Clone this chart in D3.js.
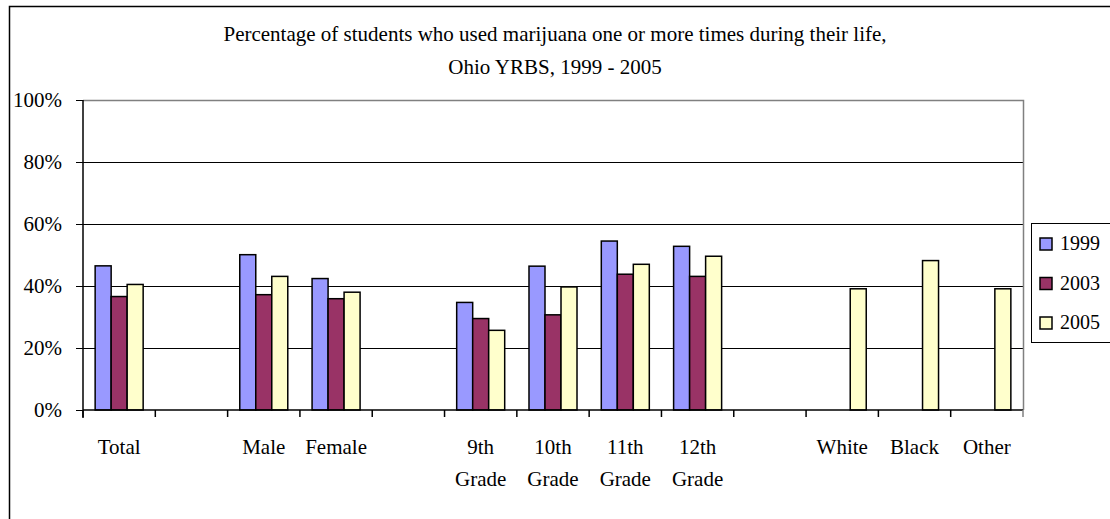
<!DOCTYPE html>
<html>
<head>
<meta charset="utf-8">
<script src="https://cdn.jsdelivr.net/npm/d3@7"></script>
<style>
  body { margin: 0; background: #fff; }
  text { font-family: "Liberation Serif", "Times New Roman", serif; fill: #000; }
</style>
</head>
<body>
<div class="chart"></div>
<script>
// chart data
var categories = ["Total", "", "Male", "Female", "", "9th Grade", "10th Grade", "11th Grade", "12th Grade", "", "White", "Black", "Other"];
var years = ["1999", "2003", "2005"];
var v1999 = [46.5, null, 50.1, 42.4, null, 34.7, 46.4, 54.5, 52.8, null, null, null, null];
var v2003 = [36.6, null, 37.2, 35.9, null, 29.5, 30.7, 43.8, 43.1, null, null, null, null];
var v2005 = [40.5, null, 43.1, 38.0, null, 25.7, 39.7, 47.0, 49.6, null, 39.1, 48.2, 39.1];
var yTicks = [0, 20, 40, 60, 80, 100];
var titleLines = ["Percentage of students who used marijuana one or more times during their life,", "Ohio YRBS, 1999 - 2005"];

var colors = { "1999": "#9999ff", "2003": "#993366", "2005": "#ffffcc" };
var values = { "1999": v1999, "2003": v2003, "2005": v2005 };

var W = 1110, H = 519;
var plot = { left: 83, right: 1023, top: 100, bottom: 410 };

var svg = d3.select(".chart").append("svg")
  .attr("width", W).attr("height", H);

// outer frame
svg.append("rect")
  .attr("x", 9.5).attr("y", 6.5)
  .attr("width", W + 10).attr("height", H + 10)
  .attr("fill", "#fff").attr("stroke", "#000").attr("stroke-width", 1.5);

var x = d3.scaleBand().domain(d3.range(categories.length)).range([plot.left, plot.right]);
var groupW = x.bandwidth() * 0.664;
var xs = d3.scaleBand().domain(years).range([0, groupW]);
var y = d3.scaleLinear().domain([0, 100]).range([plot.bottom, plot.top]);

// title
svg.append("g").selectAll("text")
  .data(titleLines).enter().append("text")
  .attr("x", 555)
  .attr("y", (d, i) => 41 + i * 33)
  .attr("text-anchor", "middle")
  .attr("font-size", 21)
  .text(d => d);

// gridlines
svg.append("g")
  .attr("transform", `translate(${plot.left},0)`)
  .call(d3.axisLeft(y).tickValues(yTicks.slice(1, -1)).tickSize(-(plot.right - plot.left)).tickFormat(""))
  .call(g => g.select(".domain").remove())
  .selectAll("line").attr("stroke", "#000");

// plot area border (right + top)
svg.append("path")
  .attr("d", `M${plot.left},${plot.top + 0.5}H${plot.right + 0.5}V${plot.bottom}`)
  .attr("fill", "none").attr("stroke", "#808080").attr("stroke-width", 1.5);

// bars
years.forEach(yr => {
  var arr = values[yr].map((v, i) => ({ i: i, v: v })).filter(d => d.v != null);
  svg.append("g").selectAll("rect")
    .data(arr).enter().append("rect")
    .attr("x", d => x(d.i) + (x.bandwidth() - groupW) / 2 + xs(yr))
    .attr("y", d => y(d.v))
    .attr("width", xs.bandwidth())
    .attr("height", d => y(0) - y(d.v))
    .attr("fill", colors[yr])
    .attr("stroke", "#000")
    .attr("stroke-width", 1.5);
});

// y axis
var yAxis = svg.append("g")
  .attr("transform", `translate(${plot.left},0)`)
  .call(d3.axisLeft(y).tickValues(yTicks).tickSize(7).tickPadding(14).tickFormat(d => d + "%"));
yAxis.select(".domain").attr("d", `M0,${plot.top}V${plot.bottom + 8}`).attr("stroke", "#000").attr("stroke-width", 1.5);
yAxis.selectAll("line").attr("stroke", "#000");
yAxis.selectAll("text").attr("font-size", 21).attr("font-family", "Liberation Serif");

// x axis
var xAxis = svg.append("g").attr("transform", `translate(0,${plot.bottom})`);
xAxis.append("line")
  .attr("x1", plot.left).attr("x2", plot.right)
  .attr("stroke", "#000").attr("stroke-width", 1.5);
xAxis.selectAll(".tick").data(d3.range(categories.length + 1)).enter().append("line")
  .attr("class", "tick")
  .attr("x1", i => i < categories.length ? x(i) : plot.right)
  .attr("x2", i => i < categories.length ? x(i) : plot.right)
  .attr("y1", 0).attr("y2", 7)
  .attr("stroke", (d, i) => i === categories.length ? "#808080" : "#000")
  .attr("stroke-width", 1.5);

xAxis.selectAll(".lbl").data(categories).enter().append("text")
  .attr("class", "lbl")
  .attr("text-anchor", "middle")
  .attr("font-size", 21)
  .each(function(d, i) {
    var words = d.split(" ");
    var t = d3.select(this);
    words.forEach((w, k) => {
      t.append("tspan")
        .attr("x", x(i) + x.bandwidth() / 2)
        .attr("y", 44 + k * 32)
        .text(w);
    });
  });

// legend
var legend = svg.append("g").attr("transform", "translate(1031,223)");
legend.append("rect")
  .attr("x", 0.5).attr("y", 0.5).attr("width", 120).attr("height", 119)
  .attr("fill", "#fff").attr("stroke", "#000").attr("stroke-width", 1);
var items = legend.selectAll(".item").data(years).enter().append("g")
  .attr("class", "item")
  .attr("transform", (d, i) => `translate(9,${15 + i * 39.5})`);
items.append("rect")
  .attr("width", 12).attr("height", 12)
  .attr("fill", d => colors[d]).attr("stroke", "#000").attr("stroke-width", 1.5);
items.append("text")
  .attr("x", 20).attr("y", 12)
  .attr("font-size", 20)
  .text(d => d);
</script>
</body>
</html>
